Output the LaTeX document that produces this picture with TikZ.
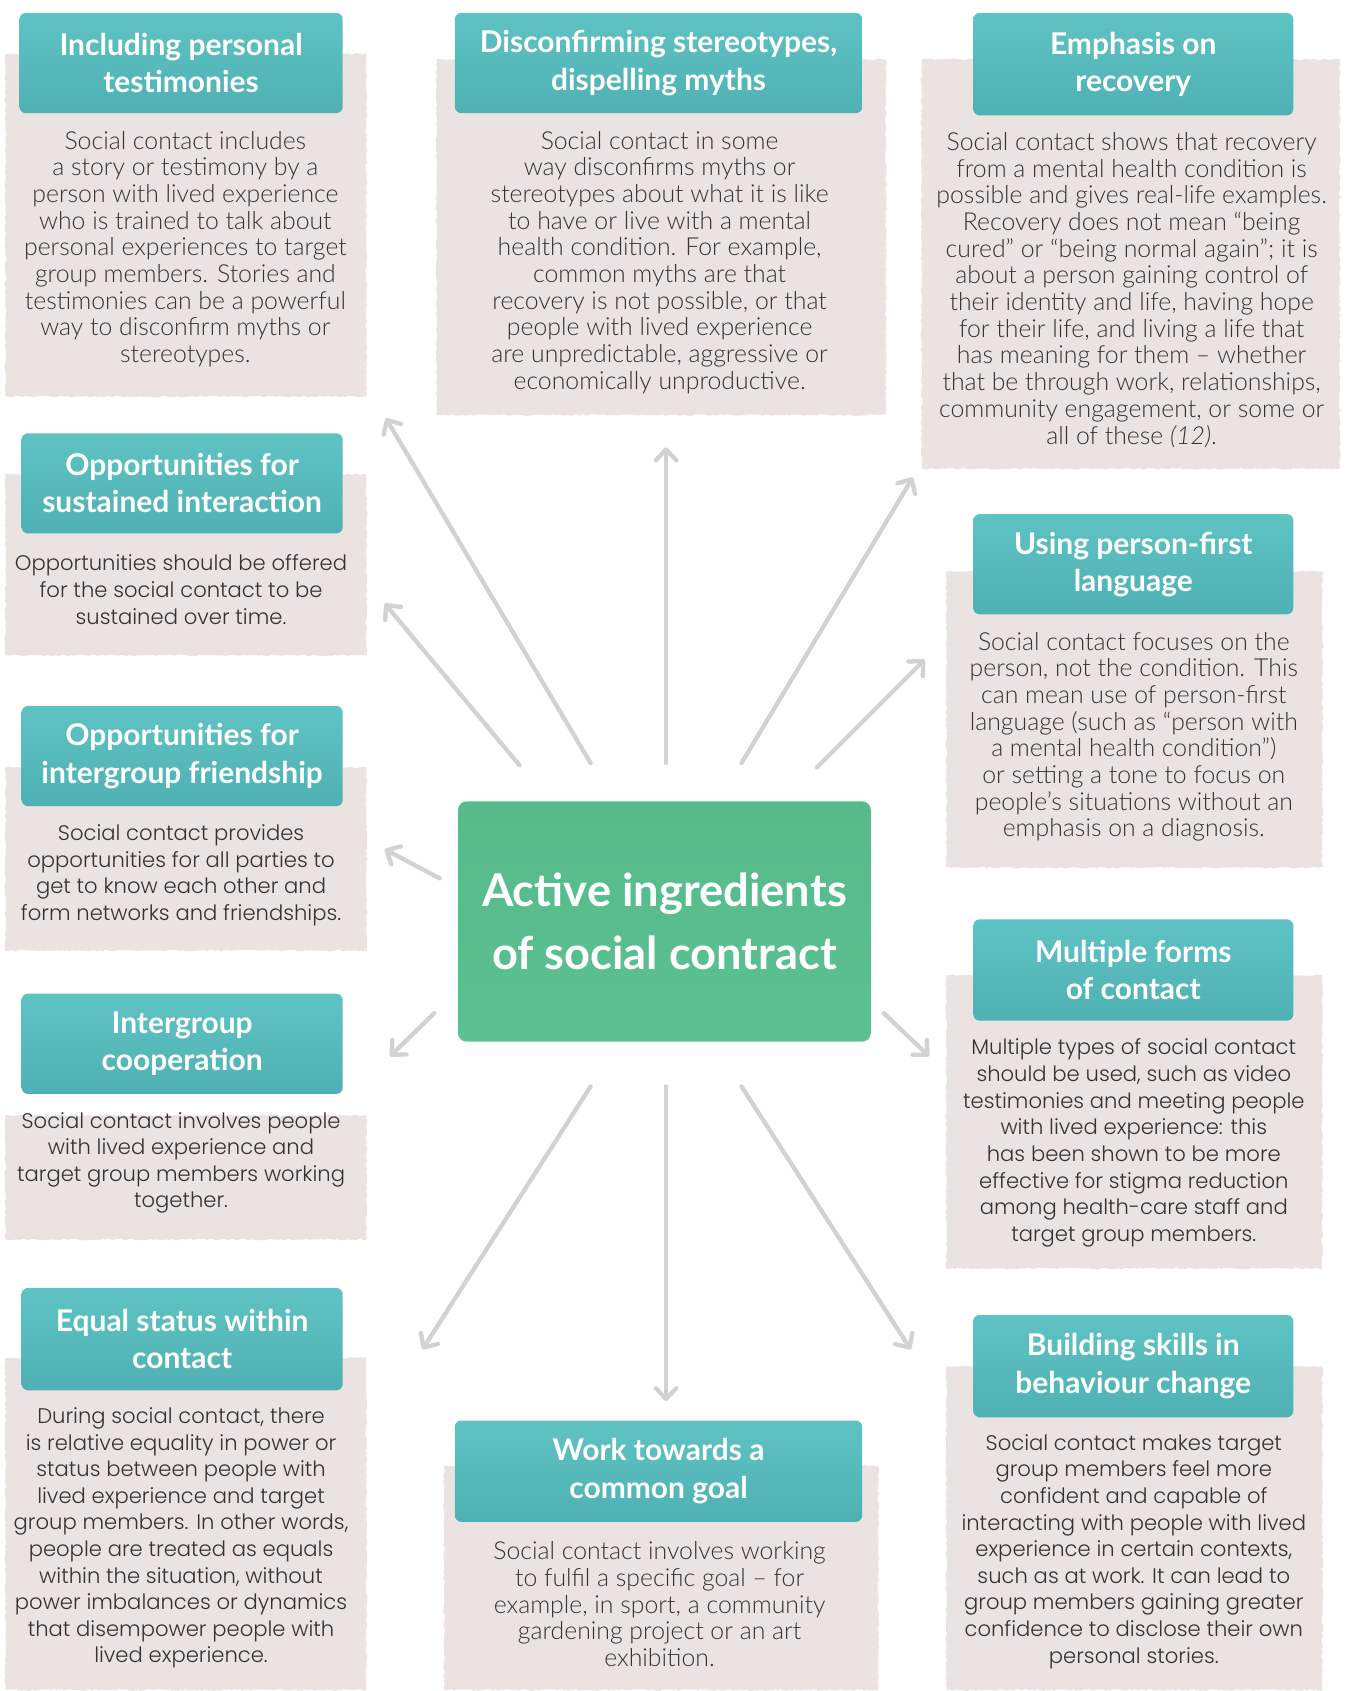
\documentclass[tikz,border=0pt]{standalone}
\usepackage{fontspec}
\usetikzlibrary{arrows.meta,decorations.pathmorphing}
\newfontfamily\hdfont{Lato}
\newfontfamily\bdfont{Lato Light}
\newfontfamily\wdfont{Poppins Light}
\definecolor{pinkc}{HTML}{EBE2E2}
\definecolor{tealc}{HTML}{5FC2C3}
\definecolor{tealdk}{HTML}{4FB1B3}
\definecolor{greenc}{HTML}{56BA8B}
\definecolor{greenlt}{HTML}{5CC192}
\definecolor{arrc}{HTML}{D0D2D3}
\definecolor{txtc}{HTML}{333333}
\begin{document}
\pgfmathsetseed{7}
\begin{tikzpicture}[x=1pt,y=-1pt,
  rough/.style={decorate,decoration={random steps,segment length=2.5pt,amplitude=0.8pt}},
  card/.style n args={2}{rough, fill=pinkc, inner sep=0pt, minimum width=#1, minimum height=#2},
  hdr/.style n args={2}{rounded corners=6pt, top color=tealc, bottom color=tealdk, inner sep=0pt,
     minimum width=#1, minimum height=#2,
     font=\hdfont\bfseries\fontsize{27.8}{34.5}\selectfont, text=white, align=center},
  ttl/.style n args={2}{rounded corners=8pt, top color=greenc, bottom color=greenlt, inner sep=0pt,
     minimum width=#1, minimum height=#2,
     font=\hdfont\bfseries\fontsize{42}{59}\selectfont, text=white, align=center},
  bodyL/.style={font=\bdfont\fontsize{23}{24.75}\selectfont, text=txtc, align=center, inner sep=0pt},
  bodyW/.style={font=\wdfont\fontsize{19.6}{24.7}\selectfont, text=txtc, align=center, inner sep=0pt},
  arr/.style={draw=arrc, line width=4pt, line cap=round, line join=round,
     -{Straight Barb[length=10pt,width=19pt,line cap=round,line join=round]}}
]
\useasboundingbox (0,0) rectangle (1250,1569);

% ---------- cards (pink) ----------
\node[card={335pt}{318pt}] (c1) at (172.5,209) {};
\node[card={335pt}{168pt}] (c2) at (172.5,524) {};
\node[card={335pt}{170pt}] (c3) at (172.5,797) {};
\node[card={335pt}{115pt}] (c4) at (172.5,1092.5) {};
\node[card={335pt}{308pt}] (c5) at (172.5,1414) {};
\node[card={417pt}{330pt}] (cc1) at (613.5,220) {};
\node[card={403pt}{208pt}] (cc3) at (613.5,1464) {};
\node[card={388pt}{380pt}] (cr1) at (1049,245) {};
\node[card={349pt}{275pt}] (cr2) at (1052.5,667.5) {};
\node[card={349pt}{272pt}] (cr3) at (1052.5,1041) {};
\node[card={349pt}{300pt}] (cr4) at (1052.5,1418) {};

% ---------- headers (teal) ----------
\node[hdr={300pt}{93pt}] (h1) at (168,58.5) {Including personal\\testimonies};
\node[hdr={298pt}{93pt}] (h2) at (169,448.5) {Opportunities for\\sustained interaction};
\node[hdr={298pt}{93pt}] (h3) at (169,701.5) {Opportunities for\\intergroup friendship};
\node[hdr={298pt}{93pt}] (h4) at (169,968.5) {Intergroup\\cooperation};
\node[hdr={298pt}{95pt}] (h5) at (169,1242.5) {Equal status within\\contact};
\node[hdr={378pt}{93pt}] (hc1) at (611,58.5) {Disconfirming stereotypes,\\dispelling myths};
\node[hdr={378pt}{94pt}] (hc3) at (611,1365) {Work towards a\\common goal};
\node[hdr={297pt}{95pt}] (hr1) at (1051.5,59.5) {Emphasis on\\recovery};
\node[hdr={297pt}{93pt}] (hr2) at (1051.5,523.5) {Using person-first\\language};
\node[hdr={297pt}{94pt}] (hr3) at (1051.5,900) {Multiple forms\\of contact};
\node[hdr={297pt}{95pt}] (hr4) at (1051.5,1267.5) {Building skills in\\behaviour change};

% ---------- centre ----------
\node[ttl={383pt}{223pt}] (ctr) at (616.5,855) {Active ingredients\\of social contract};

% ---------- body texts ----------
\node[bodyL] (t1) at (172,231) {Social contact includes\\a story or testimony by a\\person with lived experience\\who is trained to talk about\\personal experiences to target\\group members. Stories and\\testimonies can be a powerful\\way to disconfirm myths or\\stereotypes.};
\node[bodyW] (t2) at (168,547) {Opportunities should be offered\\for the social contact to be\\sustained over time.};
\node[bodyW] (t3) at (168,812) {Social contact provides\\opportunities for all parties to\\get to know each other and\\form networks and friendships.};
\node[bodyW] (t4) at (168,1079) {Social contact involves people\\with lived experience and\\target group members working\\together.};
\node[bodyW] (t5) at (168,1427) {During social contact, there\\is relative equality in power or\\status between people with\\lived experience and target\\group members. In other words,\\people are treated as equals\\within the situation, without\\power imbalances or dynamics\\that disempower people with\\lived experience.};
\node[bodyL] (tc1) at (612,243.5) {Social contact in some\\way disconfirms myths or\\stereotypes about what it is like\\to have or live with a mental\\health condition. For example,\\common myths are that\\recovery is not possible, or that\\people with lived experience\\are unpredictable, aggressive or\\economically unproductive.};
\node[bodyL] (tc3) at (612,1488.5) {Social contact involves working\\to fulfil a specific goal – for\\example, in sport, a community\\gardening project or an art\\exhibition.};
\node[bodyL] (tr1) at (1050,269) {Social contact shows that recovery\\from a mental health condition is\\possible and gives real-life examples.\\Recovery does not mean “being\\cured” or “being normal again”; it is\\about a person gaining control of\\their identity and life, having hope\\for their life, and living a life that\\has meaning for them – whether\\that be through work, relationships,\\community engagement, or some or\\all of these \textit{(12)}.};
\node[bodyL] (tr2) at (1052,683.5) {Social contact focuses on the\\person, not the condition. This\\can mean use of person-first\\language (such as “person with\\a mental health condition”)\\or setting a tone to focus on\\people’s situations without an\\emphasis on a diagnosis.};
\node[bodyW] (tr3) at (1052,1060.5) {Multiple types of social contact\\should be used, such as video\\testimonies and meeting people\\with lived experience: this\\has been shown to be more\\effective for stigma reduction\\among health-care staff and\\target group members.};
\node[bodyW] (tr4) at (1052,1439.5) {Social contact makes target\\group members feel more\\confident and capable of\\interacting with people with lived\\experience in certain contexts,\\such as at work. It can lead to\\group members gaining greater\\confidence to disclose their own\\personal stories.};

% ---------- arrows ----------
\coordinate (s1) at (548,708);  \coordinate (e1) at (358,388);
\coordinate (s2) at (482,710);  \coordinate (e2) at (357,560);
\coordinate (s3) at (618,708);  \coordinate (e3) at (618,415);
\coordinate (s4) at (688,708);  \coordinate (e4) at (847,443);
\coordinate (s5) at (758,712);  \coordinate (e5) at (858,612);
\coordinate (s6) at (408,815);  \coordinate (e6) at (357,788);
\coordinate (s7) at (403,940);  \coordinate (e7) at (362,980);
\coordinate (s8) at (548,1008); \coordinate (e8) at (392,1252);
\coordinate (s9) at (618,1008); \coordinate (e9) at (618,1300);
\coordinate (s10) at (688,1008); \coordinate (e10) at (845,1252);
\coordinate (s11) at (820,940); \coordinate (e11) at (862,980);
\foreach \i in {1,...,11} \draw[arr] (s\i) -- (e\i);
\end{tikzpicture}
\end{document}
